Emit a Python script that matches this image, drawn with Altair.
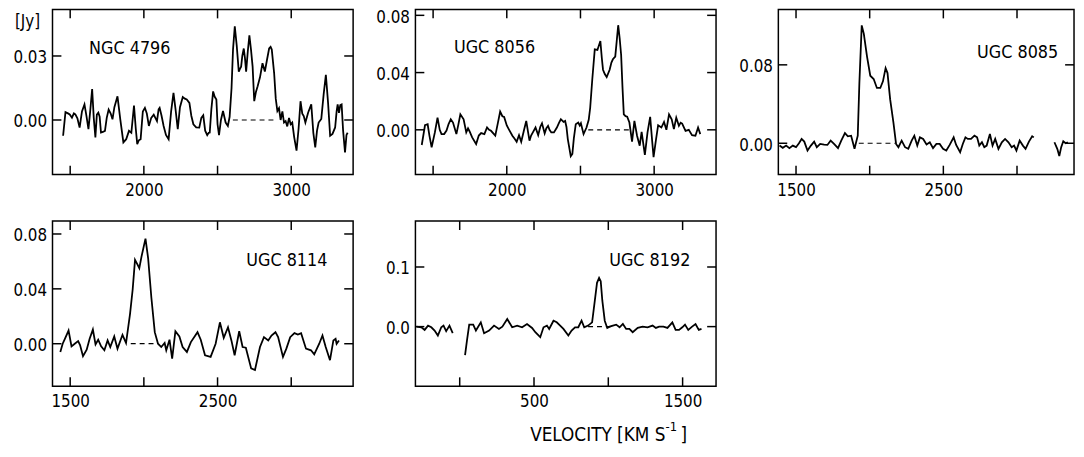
import altair as alt
import pandas as pd

FONT = "DejaVu Sans Condensed, Liberation Sans Narrow, sans-serif"
FS = 17
H = 167

# ---------------- data ----------------
# NGC 4796
p1_v = [1452, 1468, 1485, 1497, 1512, 1525, 1535, 1549, 1564, 1580, 1597, 1610, 1624, 1637, 1649, 1660,
        1671, 1681, 1691, 1700, 1709, 1722, 1736, 1748, 1761, 1775, 1787, 1800, 1821, 1840, 1861, 1880,
        1899, 1915, 1933, 1945, 1955, 1966, 1978, 1993, 2007, 2020, 2034, 2050, 2067, 2078, 2089, 2100,
        2107, 2120, 2134, 2150, 2168, 2185, 2201, 2215, 2230, 2245, 2264, 2278, 2291, 2309, 2322, 2336,
        2355, 2376, 2390, 2403, 2416, 2430, 2440, 2447, 2458, 2470, 2480, 2492, 2500, 2510, 2523, 2537,
        2555, 2570, 2582, 2595, 2605, 2617, 2630, 2644, 2652, 2660, 2668, 2678, 2686, 2694, 2705, 2716,
        2727, 2738, 2749, 2760, 2772, 2788, 2805, 2821, 2835, 2850, 2860, 2868, 2884, 2895, 2906, 2917,
        2928, 2940, 2951, 2962, 2973, 2985, 2996, 3007, 3020, 3036, 3050, 3063, 3075, 3085, 3096, 3115,
        3136, 3150, 3163, 3175, 3186, 3204, 3220, 3235, 3250, 3264, 3280, 3298, 3308, 3315, 3324, 3333,
        3342, 3352, 3365, 3375, 3383]
p1_f = [-0.0074, 0.0037, 0.0031, 0.0026, 0.0011, 0.0031, 0.0026, 0.0008, -0.0036, 0.0040, 0.0073, 0.0020,
        -0.0043, 0.0050, 0.0145, 0.0010, -0.0082, 0.0025, 0.0034, 0.0015, -0.0059, -0.0056, -0.0051, 0.0010,
        0.0049, 0.0030, 0.0003, 0.0060, 0.0111, 0.0003, -0.0105, -0.0090, -0.0051, -0.0060, 0.0068, -0.0040,
        -0.0113, -0.0095, -0.0090, 0.0040, 0.0057, 0.0030, -0.0028, 0.0010, 0.0025, 0.0010, -0.0005, 0.0050,
        0.0057, 0.0020, -0.0028, -0.0070, -0.0090, 0.0040, 0.0127, 0.0050, -0.0043, 0.0060, 0.0108, 0.0100,
        0.0096, 0.0080, 0.0020, -0.0020, -0.0035, -0.0036, 0.0010, 0.0022, -0.0050, -0.0071, -0.0060, -0.0059,
        0.0050, 0.0134, 0.0110, 0.0096, -0.0020, -0.0071, 0.0000, 0.0042, -0.0012, -0.0028, 0.0015, 0.0150,
        0.0330, 0.0439, 0.0350, 0.0227, 0.0240, 0.0250, 0.0300, 0.0335, 0.0290, 0.0227, 0.0320, 0.0397,
        0.0330, 0.0250, 0.0088, 0.0130, 0.0158, 0.0200, 0.0266, 0.0227, 0.0280, 0.0335, 0.0343, 0.0330,
        0.0220, 0.0100, 0.0042, 0.0055, 0.0000, 0.0040, -0.0012, -0.0005, -0.0030, 0.0010, -0.0020, -0.0012,
        -0.0080, -0.0144, -0.0040, 0.0088, 0.0030, 0.0018, -0.0012, 0.0035, 0.0073, -0.0060, -0.0128, -0.0050,
        -0.0012, 0.0005, 0.0120, 0.0212, 0.0080, -0.0074, -0.0065, -0.0035, 0.0040, 0.0073, 0.0034, 0.0070,
        0.0073, -0.0050, -0.0152, -0.0070, -0.0060]

# UGC 8056
p2_v = [1423, 1445, 1463, 1475, 1490, 1512, 1530, 1545, 1557, 1575, 1591, 1605, 1620, 1635, 1658, 1672,
        1685, 1707, 1725, 1737, 1747, 1765, 1792, 1810, 1826, 1848, 1866, 1880, 1893, 1922, 1940, 1955,
        1970, 1982, 2000, 2016, 2038, 2052, 2067, 2083, 2098, 2115, 2132, 2145, 2154, 2165, 2177, 2195,
        2213, 2227, 2239, 2257, 2268, 2280, 2290, 2302, 2320, 2340, 2355, 2367, 2385, 2396, 2405, 2414,
        2434, 2445, 2455, 2468, 2485, 2495, 2503, 2521, 2541, 2556, 2566, 2580, 2597, 2615, 2635, 2645,
        2653, 2665, 2678, 2698, 2710, 2720, 2736, 2746, 2756, 2766, 2776, 2785, 2794, 2806, 2817, 2832,
        2850, 2866, 2884, 2902, 2915, 2937, 2955, 2973, 2985, 2996, 3013, 3027, 3049, 3067, 3083, 3101,
        3119, 3134, 3150, 3168, 3180, 3190, 3213, 3235, 3257, 3280, 3298, 3313]
p2_f = [-0.0106, 0.0032, 0.0039, -0.0040, -0.0122, -0.0018, 0.0085, 0.0000, -0.0030, -0.0030, -0.0005, 0.0040,
        0.0074, 0.0051, -0.0030, 0.0040, 0.0108, 0.0074, -0.0018, 0.0010, -0.0010, -0.0053, -0.0099, -0.0040,
        -0.0023, -0.0030, 0.0016, 0.0000, -0.0007, -0.0041, 0.0050, 0.0127, 0.0095, 0.0090, 0.0030, 0.0000,
        -0.0041, -0.0060, -0.0083, -0.0037, -0.0083, -0.0010, 0.0062, -0.0020, -0.0076, -0.0040, -0.0018, 0.0016,
        -0.0037, 0.0020, 0.0046, -0.0025, 0.0010, 0.0028, 0.0000, -0.0018, -0.0018, 0.0016, 0.0050, 0.0074,
        0.0055, 0.0062, 0.0020, -0.0065, -0.0184, -0.0168, -0.0060, 0.0039, 0.0051, 0.0030, 0.0046, -0.0030,
        0.0016, 0.0070, 0.0154, 0.0350, 0.0562, 0.0558, 0.0620, 0.0500, 0.0420, 0.0390, 0.0369, 0.0420,
        0.0470, 0.0493, 0.0512, 0.0620, 0.0731, 0.0640, 0.0523, 0.0300, 0.0108, 0.0095, 0.0092, 0.0051,
        -0.0083, 0.0062, -0.0041, -0.0111, -0.0014, -0.0175, -0.0018, 0.0090, -0.0060, -0.0191, -0.0065, 0.0032,
        0.0016, 0.0055, 0.0000, 0.0108, 0.0074, 0.0005, 0.0085, 0.0028, 0.0050, 0.0044, -0.0007, 0.0000,
        -0.0037, -0.0041, 0.0016, -0.0030]

# UGC 8085 (two segments)
p3_v = [1388, 1410, 1433, 1455, 1478, 1500, 1520, 1538, 1556, 1578, 1601, 1623, 1641, 1664, 1691, 1713,
        1735, 1758, 1785, 1807, 1832, 1852, 1874, 1897, 1919, 1930, 1946, 1960, 1982, 2004, 2027, 2049,
        2072, 2090, 2108, 2121, 2139, 2161, 2179, 2195, 2217, 2240, 2262, 2285, 2303, 2323, 2341, 2363,
        2386, 2408, 2430, 2453, 2475, 2498, 2520, 2543, 2570, 2587, 2614, 2632, 2650, 2666, 2688, 2711,
        2729, 2744, 2762, 2778, 2794, 2816, 2834, 2852, 2874, 2897, 2919, 2942, 2964, 2980, 2996, 3018,
        3040, 3058, 3081, 3103, 3114,
        3254, 3274, 3287, 3300, 3314, 3330, 3345]
p3_f = [-0.0024, -0.0047, -0.0024, -0.0050, -0.0024, -0.0040, 0.0000, 0.0044, 0.0017, -0.0074, -0.0024, 0.0017,
        -0.0040, -0.0007, -0.0013, -0.0017, 0.0027, -0.0007, -0.0050, 0.0027, 0.0104, 0.0071, 0.0077, -0.0057,
        0.0077, 0.0615, 0.1203, 0.1119, 0.0884, 0.0689, 0.0655, 0.0564, 0.0564, 0.0632, 0.0766, 0.0716,
        0.0447, 0.0212, -0.0007, -0.0040, 0.0027, -0.0040, -0.0057, 0.0027, 0.0077, -0.0024, 0.0060, 0.0044,
        -0.0013, 0.0010, -0.0050, -0.0007, -0.0007, -0.0057, -0.0074, -0.0017, 0.0060, -0.0017, -0.0091, -0.0007,
        0.0060, 0.0044, 0.0044, 0.0077, 0.0060, -0.0024, 0.0010, -0.0040, -0.0024, 0.0094, -0.0024, 0.0044,
        -0.0057, 0.0010, 0.0044, 0.0010, -0.0040, -0.0024, -0.0074, 0.0027, -0.0024, -0.0057, 0.0017, 0.0071,
        0.0060,
        0.0010, -0.0060, -0.0130, -0.0040, 0.0020, 0.0000, 0.0010]
p3_seg = [1] * 85 + [2] * 7

# UGC 8114
p4_v = [1433, 1449, 1464, 1489, 1509, 1531, 1554, 1567, 1587, 1612, 1632, 1654, 1672, 1690, 1710, 1732,
        1754, 1772, 1799, 1821, 1855, 1879, 1906, 1924, 1940, 1958, 1969, 1984, 2011, 2029, 2051, 2074,
        2096, 2118, 2141, 2152, 2174, 2192, 2214, 2241, 2263, 2292, 2319, 2364, 2386, 2415, 2453, 2487,
        2516, 2542, 2571, 2594, 2616, 2647, 2670, 2692, 2728, 2754, 2788, 2815, 2844, 2866, 2893, 2911,
        2944, 2967, 2993, 3022, 3045, 3067, 3100, 3134, 3156, 3190, 3212, 3234, 3263, 3286, 3301, 3308, 3324]
p4_f = [-0.0060, 0.0000, 0.0036, 0.0096, -0.0019, 0.0000, 0.0019, -0.0010, -0.0091, -0.0043, 0.0036, 0.0103,
        -0.0005, 0.0029, -0.0019, -0.0048, 0.0024, -0.0024, 0.0053, -0.0036, 0.0065, 0.0005, 0.0216, 0.0395,
        0.0611, 0.0575, 0.0551, 0.0635, 0.0766, 0.0623, 0.0335, 0.0084, 0.0000, -0.0024, 0.0005, -0.0048,
        0.0029, -0.0108, 0.0091, 0.0053, -0.0024, -0.0060, 0.0012, 0.0084, 0.0029, -0.0084, -0.0096, 0.0000,
        0.0156, 0.0043, 0.0120, 0.0024, -0.0084, 0.0091, -0.0024, -0.0029, -0.0180, -0.0192, -0.0024, 0.0048,
        0.0024, 0.0060, 0.0084, 0.0048, -0.0096, -0.0036, 0.0048, 0.0077, 0.0067, 0.0077, -0.0036, -0.0048,
        -0.0077, 0.0000, 0.0060, -0.0024, -0.0120, 0.0024, 0.0036, 0.0000, 0.0024]

# UGC 8192 (two segments)
p5_v = [-291, -258, -236, -213, -191, -169, -147, -124, -109, -91, -69, -47,
        36, 49, 64, 91, 109, 142, 164, 198, 231, 264, 287, 320, 353, 387, 420, 453, 487, 509, 542, 564,
        587, 602, 631, 653, 676, 698, 731, 753, 776, 798, 820, 838, 864, 891, 909, 924, 938, 949, 960,
        976, 993, 1009, 1031, 1053, 1076, 1098, 1120, 1142, 1164, 1198, 1231, 1264, 1298, 1320, 1342,
        1371, 1398, 1431, 1453, 1476, 1498, 1516, 1538, 1564, 1587, 1609, 1627]
p5_f = [0.0000, -0.0011, -0.0055, 0.0017, -0.0011, -0.0066, -0.0149, -0.0011, 0.0017, -0.0077, 0.0017, -0.0110,
        -0.0480, -0.0230, 0.0033, 0.0033, -0.0066, 0.0072, -0.0110, -0.0066, 0.0017, -0.0039, 0.0000, 0.0127,
        -0.0011, 0.0017, -0.0011, 0.0044, -0.0022, -0.0094, -0.0177, -0.0011, 0.0017, -0.0039, 0.0099, 0.0072,
        0.0017, -0.0039, -0.0149, -0.0066, -0.0011, -0.0011, 0.0099, -0.0011, 0.0017, 0.0072, 0.0430, 0.0734,
        0.0817, 0.0762, 0.0430, 0.0099, -0.0022, 0.0000, 0.0017, 0.0033, -0.0011, 0.0044, -0.0039, -0.0039,
        -0.0094, -0.0022, 0.0000, -0.0011, 0.0017, -0.0022, 0.0000, 0.0000, -0.0022, 0.0072, -0.0055, -0.0055,
        -0.0011, 0.0033, -0.0055, 0.0000, 0.0044, -0.0055, -0.0039]
p5_seg = [1] * 12 + [2] * 67

names = ["NGC 4796", "UGC 8056", "UGC 8085", "UGC 8114", "UGC 8192"]
x_domains = [[1380, 3420], [1380, 3420], [1380, 3387], [1380, 3420], [-298, 1725]]
y_domains = [[-0.0256, 0.0518], [-0.0313, 0.0841], [-0.032, 0.1365], [-0.031, 0.0894], [-0.1, 0.177]]
x_labels = [[2000, 3000], [2000, 3000], [1500, 2500], [1500, 2500], [500, 1500]]
x_ticks = [[1500, 2000, 2500, 3000]] * 4 + [[0, 500, 1000, 1500]]
y_labels = [[0, 0.03], [0, 0.04, 0.08], [0, 0.08], [0, 0.04, 0.08], [0, 0.1]]
y_formats = [".2f", ".2f", ".2f", ".2f", ".1f"]
baselines = [[2604, 2895], [2553, 2843], [1926, 2173], [1911, 2080], [864, 1025]]


def panel(i, v, f, seg, w, title_x, title_y, title_align, extras=()):
    xs = alt.Scale(domain=x_domains[i], nice=False, zero=False)
    ys = alt.Scale(domain=y_domains[i], nice=False, zero=False)
    xax = alt.Axis(values=x_labels[i], ticks=False, domain=False, grid=False, title=None,
                   labelPadding=8, format="d", labelFontSize=FS, labelFont=FONT, labelColor="black")
    yax = alt.Axis(values=y_labels[i], ticks=False, domain=False, grid=False, title=None,
                   labelPadding=6, labelOffset=2, format=y_formats[i], labelFontSize=FS,
                   labelFont=FONT, labelColor="black")
    X = lambda fld: alt.X(fld, scale=xs, axis=xax)
    Y = lambda fld: alt.Y(fld, scale=ys, axis=yax)

    df = pd.DataFrame({"v": v, "f": f, "seg": seg})
    line = alt.Chart(df).mark_line(color="black", strokeWidth=1.8, clip=True).encode(
        x=X("v:Q"), y=Y("f:Q"), detail="seg:N")

    bdf = pd.DataFrame({"v": [baselines[i][0]], "v2": [baselines[i][1]], "f": [0.0]})
    base = alt.Chart(bdf).mark_rule(color="black", strokeWidth=1.2, strokeDash=[5, 4]).encode(
        x=X("v:Q"), x2="v2:Q", y=Y("f:Q"))

    xt = pd.DataFrame({"v": x_ticks[i]})
    yt = pd.DataFrame({"f": y_labels[i]})
    tick_style = dict(color="black", strokeWidth=1.5)
    xt_top = alt.Chart(xt).mark_rule(**tick_style).encode(x=X("v:Q"), y=alt.value(0), y2=alt.value(9))
    xt_bot = alt.Chart(xt).mark_rule(**tick_style).encode(x=X("v:Q"), y=alt.value(H - 9), y2=alt.value(H))
    yt_l = alt.Chart(yt).mark_rule(**tick_style).encode(y=Y("f:Q"), x=alt.value(0), x2=alt.value(9))
    yt_r = alt.Chart(yt).mark_rule(**tick_style).encode(y=Y("f:Q"), x=alt.value(w - 9), x2=alt.value(w))

    tdf = pd.DataFrame({"label": [names[i]]})
    title = alt.Chart(tdf).mark_text(font=FONT, fontSize=FS + 1, align=title_align, baseline="middle",
                                     color="black").encode(
        text="label:N", x=alt.value(title_x), y=alt.value(title_y))

    layers = [line, base, xt_top, xt_bot, yt_l, yt_r, title] + list(extras)
    return alt.layer(*layers).properties(width=w, height=H)


jy = alt.Chart(pd.DataFrame({"label": ["[Jy]"]})).mark_text(
    font=FONT, fontSize=FS, align="left", baseline="middle", color="black").encode(
    text="label:N", x=alt.value(-38), y=alt.value(13))

vel_main = alt.Chart(pd.DataFrame({"label": ["VELOCITY  [KM S"]})).mark_text(
    font=FONT, fontSize=19, align="left", baseline="middle", color="black").encode(
    text="label:N", x=alt.value(116), y=alt.value(216))
vel_sup = alt.Chart(pd.DataFrame({"label": ["-1"]})).mark_text(
    font=FONT, fontSize=13, align="left", baseline="middle", color="black").encode(
    text="label:N", x=alt.value(253), y=alt.value(208))
vel_br = alt.Chart(pd.DataFrame({"label": ["]"]})).mark_text(
    font=FONT, fontSize=19, align="left", baseline="middle", color="black").encode(
    text="label:N", x=alt.value(268), y=alt.value(216))

p1 = panel(0, p1_v, p1_f, [1] * len(p1_v), 304, 37, 40, "left", extras=[jy])
p2 = panel(1, p2_v, p2_f, [1] * len(p2_v), 304, 39, 39, "left")
p3 = panel(2, p3_v, p3_f, p3_seg, 299, 283, 44, "right")
p4 = panel(3, p4_v, p4_f, [1] * len(p4_v), 304, 278, 40, "right")
p5 = panel(4, p5_v, p5_f, p5_seg, 304, 278, 40, "right", extras=[vel_main, vel_sup, vel_br])

chart = alt.concat(p1, p2, p3, p4, p5, columns=3, spacing={"row": 47, "column": 63},
                   bounds="flush").properties(
    padding={"left": 4, "top": -3, "right": 0, "bottom": 2},
    background="white",
).configure_view(stroke="black", strokeWidth=1.5).configure_axis(
    labelFont=FONT, labelFontSize=FS, labelColor="black")

chart.save("out.html", embed_options={"renderer": "svg", "actions": False})
